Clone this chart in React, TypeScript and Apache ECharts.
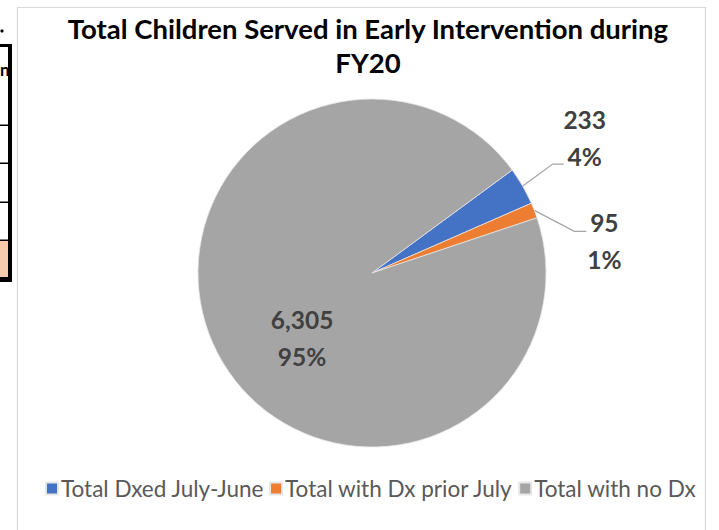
import React, { useEffect, useRef } from "react";
import * as echarts from "echarts";

const categories = ["Total Dxed July-June", "Total with Dx prior July", "Total with no Dx"];
const values = [233, 95, 6305];
const colors = ["#4472C4", "#ED7D31", "#A5A5A5"];
const titleText = "Total Children Served in Early Intervention during\nFY20";

// label-line offsets (layout only)
const lineBend: Record<number, { d1: [number, number]; d2: number; lab: [number, number] }> = {
  0: { d1: [30, -22], d2: 11, lab: [21, -26] },
  1: { d1: [40, 21], d2: 12, lab: [18, 10] },
};

export default function App() {
  const ref = useRef<HTMLDivElement>(null);
  useEffect(() => {
    if (!ref.current) return;
    const chart = echarts.init(ref.current, null, { renderer: "svg" });
    const total = values.reduce((a, b) => a + b, 0);
    const font = "Lato, 'Open Sans', sans-serif";
    chart.setOption({
      animation: false,
      backgroundColor: "#fff",
      color: colors,
      title: {
        text: titleText,
        left: 363,
        top: 6,
        textAlign: "center",
        textStyle: { fontFamily: font, fontSize: 27.5, fontWeight: "bold", color: "#000", lineHeight: 34 },
      },
      legend: {
        bottom: 25,
        left: 40,
        right: 20,
        itemWidth: 12,
        itemHeight: 12,
        itemGap: 5,
        icon: "rect",
        textStyle: { fontFamily: font, fontSize: 22.5, color: "#595959", padding: [0, 0, 0, -2] },
        data: categories,
      },
      graphic: [
        { type: "rect", z: -10, shape: { x: 17.5, y: 7.5, width: 688, height: 560 }, style: { fill: "#fff", stroke: "#d9d9d9", lineWidth: 1.2 } },
        { type: "rect", shape: { x: 8, y: 44, width: 4, height: 238 }, style: { fill: "#000" } },
        { type: "rect", shape: { x: 0, y: 44, width: 12, height: 3 }, style: { fill: "#000" } },
        { type: "rect", shape: { x: 0, y: 124.5, width: 10, height: 1.5 }, style: { fill: "#000" } },
        { type: "rect", shape: { x: 0, y: 162.5, width: 10, height: 1.5 }, style: { fill: "#000" } },
        { type: "rect", shape: { x: 0, y: 201.5, width: 10, height: 1.5 }, style: { fill: "#000" } },
        { type: "rect", shape: { x: 0, y: 239.5, width: 10, height: 1.5 }, style: { fill: "#000" } },
        { type: "rect", shape: { x: 0, y: 241, width: 8, height: 36 }, style: { fill: "#F8CBAD" } },
        { type: "rect", shape: { x: 0, y: 277, width: 12, height: 5 }, style: { fill: "#000" } },
        { type: "circle", shape: { cx: 2, cy: 31, r: 1.6 }, style: { fill: "#000" } },
        { type: "text", x: 0, y: 69, style: { text: "n", fontFamily: font, fontSize: 17, fontWeight: "bold", fill: "#000", verticalAlign: "middle" } },
      ],
      series: [
        {
          type: "pie",
          center: [372, 273],
          radius: 174,
          startAngle: 36.3,
          clockwise: true,
          avoidLabelOverlap: false,
          itemStyle: { borderColor: "#e6e6e6", borderWidth: 0.8 },
          data: categories.map((name, i) => ({
            name,
            value: values[i],
            label: i === 2 ? { position: "inside" } : { position: "outside" },
          })),
          label: {
            formatter: (p: any) => `${p.value.toLocaleString("en-US")}\n${Math.round((p.value / total) * 100)}%`,
            fontFamily: font,
            fontSize: 24.5,
            fontWeight: "bold",
            color: "#404040",
            lineHeight: 37,
            align: "center",
          },
          labelLine: {
            show: true,
            length: 35,
            length2: 11,
            lineStyle: { color: "#a6a6a6", width: 1.3 },
          },
          labelLayout: (params: any) => {
            const cfg = lineBend[params.dataIndex];
            if (!cfg) return { dx: 10, dy: 24 };
            const pts = params.labelLinePoints;
            if (!pts || !pts[0]) return {};
            const p0 = pts[0];
            const p1 = [p0[0] + cfg.d1[0], p0[1] + cfg.d1[1]];
            const p2 = [p1[0] + cfg.d2, p1[1]];
            return {
              x: p2[0] + cfg.lab[0],
              y: p2[1] + cfg.lab[1],
              align: "center",
              verticalAlign: "middle",
              labelLinePoints: [p0, p1, p2],
            };
          },
        },
      ],
    });
    return () => chart.dispose();
  }, []);
  return <div ref={ref} style={{ position: "fixed", left: 0, top: 0, width: 719, height: 530 }} />;
}
